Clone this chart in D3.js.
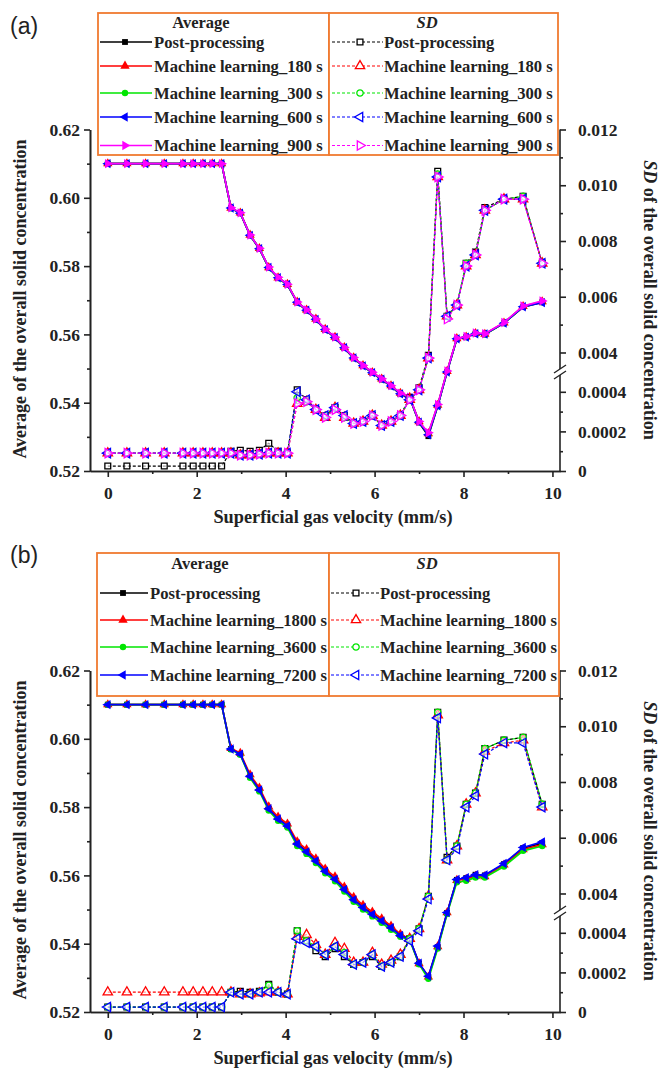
<!DOCTYPE html>
<html>
<head>
<meta charset="utf-8">
<script src="https://cdn.jsdelivr.net/npm/d3@7"></script>
<style>
  body { margin: 0; background: #fff; }
  text { font-family: "Liberation Serif", "Times New Roman", serif; font-weight: bold; fill: #222; }
</style>
</head>
<body>
<script>
var W = 659, H = 1072;

// superficial gas velocity (mm/s)
var velocity = [0, 0.43, 0.85, 1.27, 1.69, 1.92, 2.14, 2.35, 2.56, 2.77, 2.98, 3.2, 3.41, 3.62, 3.83, 4.04,
  4.26, 4.47, 4.68, 4.89, 5.11, 5.32, 5.53, 5.74, 5.95, 6.16, 6.37, 6.58, 6.79, 7.0, 7.21, 7.42, 7.63, 7.85,
  8.06, 8.27, 8.48, 8.91, 9.34, 9.77];

var xTicks = [0, 2, 4, 6, 8, 10];
var xMinor = [1, 3, 5, 7, 9];
var meanTicks = [0.52, 0.54, 0.56, 0.58, 0.60, 0.62];
var meanMinor = [0.53, 0.55, 0.57, 0.59, 0.61];
var sdTicks = [0, 0.0002, 0.0004, 0.004, 0.006, 0.008, 0.010, 0.012];
var sdTickLabels = ["0", "0.0002", "0.0004", "0.004", "0.006", "0.008", "0.010", "0.012"];
var sdMinor = [0.0001, 0.0003, 0.005, 0.007, 0.009, 0.011];

// post-processing (same in both panels)
var meanPost = [0.61, 0.61, 0.61, 0.61, 0.61, 0.61, 0.61, 0.61, 0.61, 0.597, 0.5955, 0.589, 0.585, 0.5795, 0.5765, 0.5745,
  0.5693, 0.567, 0.5643, 0.5613, 0.559, 0.556, 0.553, 0.5507, 0.5487, 0.5468, 0.5448, 0.5425, 0.5414, 0.5342, 0.5302,
  0.539, 0.549, 0.5587, 0.5592, 0.5602, 0.56, 0.5633, 0.568, 0.5694];
var sdPost = [0.000025, 0.000025, 0.000025, 0.000025, 0.000025, 0.000025, 0.000025, 0.000025, 0.000025,
  0.0001, 0.000105, 0.0001, 0.000105, 0.00014, 0.0001, 0.00009,
  0.00041, 0.00036, 0.00031, 0.00028, 0.00032, 0.00028, 0.00024, 0.00025, 0.00028, 0.00023, 0.00025, 0.00028,
  0.00037, 0.00042, 0.0039, 0.0105, 0.0053, 0.0057, 0.0072, 0.0076, 0.0092, 0.0095, 0.0096, 0.0072];

// panel (a)
var namesA = ["Post-processing", "Machine learning_180 s", "Machine learning_300 s", "Machine learning_600 s", "Machine learning_900 s"];
var mean180A = [0.61, 0.61, 0.61, 0.61, 0.61, 0.61, 0.61, 0.61, 0.61, 0.597, 0.5956, 0.5891, 0.5852, 0.5796, 0.5766, 0.5747,
  0.5695, 0.5672, 0.5645, 0.5615, 0.5592, 0.5562, 0.5532, 0.5509, 0.5489, 0.547, 0.545, 0.5428, 0.5416, 0.5345, 0.531,
  0.5393, 0.5492, 0.5588, 0.5593, 0.5603, 0.5601, 0.5634, 0.5682, 0.5696];
var mean300A = [0.61, 0.61, 0.61, 0.61, 0.61, 0.61, 0.61, 0.61, 0.61, 0.5969, 0.5955, 0.589, 0.5851, 0.5795, 0.5765, 0.5746,
  0.5694, 0.5671, 0.5644, 0.5614, 0.5591, 0.5561, 0.5531, 0.5508, 0.5488, 0.5469, 0.5449, 0.5427, 0.5415, 0.5344, 0.5308,
  0.5392, 0.5491, 0.5587, 0.5592, 0.5602, 0.56, 0.5633, 0.5681, 0.5695];
var mean600A = [0.61, 0.61, 0.61, 0.61, 0.61, 0.61, 0.61, 0.61, 0.61, 0.597, 0.5955, 0.589, 0.5851, 0.5796, 0.5766, 0.5746,
  0.5694, 0.5671, 0.5644, 0.5614, 0.5591, 0.5561, 0.5531, 0.5508, 0.5488, 0.5469, 0.5449, 0.5426, 0.5415, 0.5343, 0.5306,
  0.5391, 0.549, 0.5587, 0.5592, 0.5602, 0.5601, 0.5633, 0.5681, 0.5693];
var mean900A = [0.61, 0.61, 0.61, 0.61, 0.61, 0.61, 0.61, 0.61, 0.61, 0.5971, 0.5956, 0.5891, 0.5852, 0.5797, 0.5767, 0.5747,
  0.5695, 0.5672, 0.5645, 0.5615, 0.5592, 0.5562, 0.5532, 0.5509, 0.5489, 0.547, 0.545, 0.5428, 0.5416, 0.5345, 0.5312,
  0.5395, 0.5493, 0.5589, 0.5594, 0.5604, 0.5602, 0.5635, 0.5683, 0.5698];
var sd180A = [0.00009, 0.00009, 0.00009, 0.00009, 0.00009, 0.00009, 0.00009, 0.00009, 0.00009,
  0.00009, 0.00008, 0.00008, 0.000085, 0.00009, 0.00009, 0.00009,
  0.00034, 0.00035, 0.00031, 0.00027, 0.00032, 0.00027, 0.00024, 0.00025, 0.00028, 0.00023, 0.00025, 0.00028,
  0.00036, 0.00041, 0.0038, 0.0103, 0.0053, 0.0057, 0.0071, 0.0075, 0.0091, 0.0095, 0.0095, 0.0072];
var sd300A = [0.00009, 0.00009, 0.00009, 0.00009, 0.00009, 0.00009, 0.00009, 0.00009, 0.00009,
  0.00009, 0.00008, 0.00008, 0.000085, 0.00009, 0.00009, 0.00009,
  0.00037, 0.00035, 0.00031, 0.00028, 0.00032, 0.00027, 0.00024, 0.00025, 0.00028, 0.00023, 0.00025, 0.00028,
  0.00036, 0.00041, 0.0038, 0.0104, 0.0053, 0.0057, 0.0072, 0.0075, 0.0091, 0.0095, 0.0096, 0.0072];
var sd600A = [0.00009, 0.00009, 0.00009, 0.00009, 0.00009, 0.00009, 0.00009, 0.00009, 0.00009,
  0.00009, 0.00008, 0.00008, 0.000085, 0.00009, 0.00009, 0.00009,
  0.0004, 0.00036, 0.00031, 0.00028, 0.00032, 0.00028, 0.00024, 0.00025, 0.00028, 0.00023, 0.00025, 0.00028,
  0.00036, 0.00041, 0.0038, 0.0103, 0.0053, 0.0057, 0.0071, 0.0075, 0.0091, 0.0095, 0.0095, 0.0072];
var sd900A = [0.00009, 0.00009, 0.00009, 0.00009, 0.00009, 0.00009, 0.00009, 0.00009, 0.00009,
  0.00009, 0.00008, 0.00008, 0.000085, 0.00009, 0.00009, 0.00009,
  0.00034, 0.00035, 0.00031, 0.00027, 0.00031, 0.00027, 0.00024, 0.00025, 0.00028, 0.00023, 0.00025, 0.00028,
  0.00036, 0.00041, 0.0038, 0.0103, 0.0052, 0.0057, 0.0071, 0.0075, 0.0091, 0.0095, 0.0095, 0.0072];

// panel (b)
var namesB = ["Post-processing", "Machine learning_1800 s", "Machine learning_3600 s", "Machine learning_7200 s"];
var mean1800B = [0.61, 0.61, 0.61, 0.61, 0.61, 0.61, 0.61, 0.61, 0.61, 0.5972, 0.5958, 0.5895, 0.5856, 0.5801, 0.5771, 0.5751,
  0.5699, 0.5676, 0.5649, 0.5619, 0.5596, 0.5566, 0.5536, 0.5513, 0.5493, 0.5473, 0.5452, 0.5428, 0.5414, 0.5342, 0.5303,
  0.5392, 0.5491, 0.5586, 0.5589, 0.5598, 0.5597, 0.5631, 0.5676, 0.569];
var mean3600B = [0.61, 0.61, 0.61, 0.61, 0.61, 0.61, 0.61, 0.61, 0.61, 0.5969, 0.5953, 0.5886, 0.5846, 0.579, 0.576, 0.574,
  0.5686, 0.5663, 0.5636, 0.5606, 0.5583, 0.5553, 0.5523, 0.55, 0.548, 0.5461, 0.5441, 0.542, 0.541, 0.534, 0.5297,
  0.5386, 0.5487, 0.558, 0.5584, 0.5594, 0.5594, 0.5626, 0.5672, 0.5686];
var mean7200B = [0.61, 0.61, 0.61, 0.61, 0.61, 0.61, 0.61, 0.61, 0.61, 0.597, 0.5955, 0.589, 0.585, 0.5795, 0.5765, 0.5745,
  0.5692, 0.5669, 0.5642, 0.5612, 0.5589, 0.5559, 0.5529, 0.5506, 0.5486, 0.5467, 0.5447, 0.5424, 0.5414, 0.5343, 0.5305,
  0.5393, 0.5491, 0.5588, 0.5593, 0.5602, 0.5601, 0.5635, 0.5682, 0.5698];
var sd1800B = [0.0001, 0.0001, 0.0001, 0.0001, 0.0001, 0.0001, 0.0001, 0.0001, 0.0001,
  0.0001, 0.00009, 0.00009, 0.000095, 0.0001, 0.0001, 0.00009,
  0.00038, 0.00039, 0.00034, 0.00029, 0.00035, 0.00032, 0.00025, 0.00025, 0.0003, 0.00024, 0.00026, 0.00029,
  0.00037, 0.00042, 0.0039, 0.0104, 0.0052, 0.0057, 0.0072, 0.0076, 0.0091, 0.0094, 0.0095, 0.0071];
var sd3600B = [0.000025, 0.000025, 0.000025, 0.000025, 0.000025, 0.000025, 0.000025, 0.000025, 0.000025,
  0.0001, 0.00009, 0.00009, 0.0001, 0.000135, 0.0001, 0.00009,
  0.00041, 0.00036, 0.00033, 0.00029, 0.00033, 0.0003, 0.00024, 0.00025, 0.00029, 0.00023, 0.00025, 0.00028,
  0.00037, 0.00042, 0.0039, 0.0105, 0.0052, 0.0057, 0.0072, 0.0076, 0.0092, 0.0095, 0.0096, 0.0072];
var sd7200B = [0.000025, 0.000025, 0.000025, 0.000025, 0.000025, 0.000025, 0.000025, 0.000025, 0.000025,
  0.0001, 0.00009, 0.00009, 0.0001, 0.0001, 0.0001, 0.00009,
  0.00037, 0.00035, 0.00033, 0.00029, 0.00033, 0.00029, 0.00024, 0.00025, 0.00029, 0.00023, 0.00025, 0.00028,
  0.00036, 0.00041, 0.0038, 0.0103, 0.0052, 0.0056, 0.0071, 0.0075, 0.009, 0.0094, 0.0094, 0.0071];

var colors = ["#000000", "#ff0000", "#00e600", "#0000ff", "#ff00ff"];
var shapes = ["square", "up", "circle", "left", "right"];

var svg = d3.select("body").append("svg").attr("width", W).attr("height", H);

function symbolPath(shape) {
  var type = shape == "square" ? d3.symbolSquare : shape == "circle" ? d3.symbolCircle : d3.symbolTriangle;
  var size = shape == "square" ? 34 : shape == "circle" ? 32 : 38;
  return d3.symbol().type(type).size(size)();
}
function symbolRot(shape) {
  return shape == "left" ? -90 : shape == "right" ? 90 : 0;
}

function drawPanel(p) {
  var g = svg.append("g").attr("transform", "translate(0," + p.dy + ")");
  var top = 129.5, bottom = 471, left = 90, right = 560, brk = 372;

  var x = d3.scaleLinear().domain([-0.4, 10.17]).range([left, right]);
  var yMean = d3.scaleLinear().domain([0.52, 0.62]).range([bottom, top]);
  var ySd = d3.scaleLinear().domain([0, 0.0005, 0.0033, 0.012]).range([bottom, brk, brk, top]);

  // axes
  function styleAxis(sel) {
    sel.attr("font-size", 17.5).attr("font-family", null);
    sel.selectAll("line, path").attr("stroke", "#222").attr("stroke-width", 1.6);
  }
  g.append("g").attr("transform", "translate(" + left + ",0)")
    .call(d3.axisLeft(yMean).tickValues(meanTicks).tickFormat(d3.format(".2f")).tickSize(6).tickPadding(4).tickSizeOuter(0))
    .call(styleAxis);
  g.append("g").attr("transform", "translate(" + left + ",0)")
    .call(d3.axisLeft(yMean).tickValues(meanMinor).tickFormat("").tickSize(3).tickSizeOuter(0))
    .call(styleAxis);
  g.append("g").attr("transform", "translate(0," + bottom + ")")
    .call(d3.axisBottom(x).tickValues(xTicks).tickSize(6).tickPadding(10).tickSizeOuter(0))
    .call(styleAxis);
  g.append("g").attr("transform", "translate(0," + bottom + ")")
    .call(d3.axisBottom(x).tickValues(xMinor).tickFormat("").tickSize(3).tickSizeOuter(0))
    .call(styleAxis);
  g.append("g").attr("transform", "translate(" + right + ",0)")
    .call(d3.axisRight(ySd).tickValues(sdTicks).tickFormat(function (d, i) { return sdTickLabels[i]; }).tickSize(6).tickPadding(12))
    .call(styleAxis)
    .call(function (a) { a.select(".domain").remove(); });
  g.append("g").attr("transform", "translate(" + right + ",0)")
    .call(d3.axisRight(ySd).tickValues(sdMinor).tickFormat("").tickSize(3))
    .call(styleAxis)
    .call(function (a) { a.select(".domain").remove(); });

  // right axis with break
  g.append("line").attr("x1", right).attr("x2", right).attr("y1", top).attr("y2", brk - 3)
    .attr("stroke", "#222").attr("stroke-width", 1.6);
  g.append("line").attr("x1", right).attr("x2", right).attr("y1", brk + 3).attr("y2", bottom)
    .attr("stroke", "#222").attr("stroke-width", 1.6);
  [-3, 3].forEach(function (o) {
    g.append("line").attr("x1", right - 6).attr("y1", brk + o + 4).attr("x2", right + 6).attr("y2", brk + o - 4)
      .attr("stroke", "#222").attr("stroke-width", 1.3);
  });

  // series
  p.series.forEach(function (s, k) {
    var meanLine = d3.line().x(function (d, i) { return x(velocity[i]); }).y(function (d) { return yMean(d); });
    g.append("path").attr("d", meanLine(s.mean)).attr("fill", "none")
      .attr("stroke", colors[k]).attr("stroke-width", 1.7);
    g.selectAll(null).data(s.mean).enter().append("path")
      .attr("d", symbolPath(shapes[k]))
      .attr("transform", function (d, i) { return "translate(" + x(velocity[i]) + "," + yMean(d) + ") rotate(" + symbolRot(shapes[k]) + ")"; })
      .attr("fill", colors[k]);
  });
  p.series.forEach(function (s, k) {
    var sdLine = d3.line().x(function (d, i) { return x(velocity[i]); }).y(function (d) { return ySd(d); });
    g.append("path").attr("d", sdLine(s.sd)).attr("fill", "none")
      .attr("stroke", colors[k]).attr("stroke-width", 1.2).attr("stroke-dasharray", "3,2");
    g.selectAll(null).data(s.sd).enter().append("path")
      .attr("d", symbolPath(shapes[k]))
      .attr("transform", function (d, i) { return "translate(" + x(velocity[i]) + "," + ySd(d) + ") rotate(" + symbolRot(shapes[k]) + ")"; })
      .attr("fill", "#fff").attr("fill-opacity", 0.6).attr("stroke", colors[k]).attr("stroke-width", 1.3);
  });

  // axis titles
  g.append("text").attr("x", 333).attr("y", 523).attr("text-anchor", "middle").attr("font-size", 18.3)
    .text("Superficial gas velocity (mm/s)");
  g.append("text").attr("transform", "translate(26,299) rotate(-90)").attr("text-anchor", "middle").attr("font-size", 18)
    .text("Average of the overall solid concentration");
  var rt = g.append("text").attr("transform", "translate(644,300) rotate(90)").attr("text-anchor", "middle").attr("font-size", 18);
  rt.append("tspan").attr("font-style", "italic").text("SD");
  rt.append("tspan").text(" of the overall solid concentration");

  // panel label
  g.append("text").attr("x", 10).attr("y", p.labelY).attr("font-size", 23)
    .style("font-family", "'Liberation Sans', Arial, sans-serif").style("font-weight", "normal")
    .text(p.label);

  // legend
  var L = p.legend;
  [[L.x0, L.xm], [L.xm, L.x1]].forEach(function (b) {
    g.append("rect").attr("x", b[0]).attr("y", L.top).attr("width", b[1] - b[0]).attr("height", L.bottom - L.top)
      .attr("fill", "#fff").attr("stroke", "#f07a30").attr("stroke-width", 1.8);
  });
  g.append("text").attr("x", L.titleAvgX).attr("y", L.titleY).attr("dy", "0.35em").attr("text-anchor", "middle")
    .attr("font-size", 16.5).text("Average");
  g.append("text").attr("x", L.titleSdX).attr("y", L.titleY).attr("dy", "0.35em").attr("text-anchor", "middle")
    .attr("font-size", 16.5).attr("font-style", "italic").text("SD");
  p.names.forEach(function (name, k) {
    var yy = L.rows[k];
    g.append("line").attr("x1", L.avgLine[0]).attr("x2", L.avgLine[1]).attr("y1", yy).attr("y2", yy)
      .attr("stroke", colors[k]).attr("stroke-width", 1.7);
    g.append("path").attr("d", symbolPath(shapes[k]))
      .attr("transform", "translate(" + L.avgMark + "," + yy + ") rotate(" + symbolRot(shapes[k]) + ")")
      .attr("fill", colors[k]);
    g.append("text").attr("x", L.avgText).attr("y", yy).attr("dy", "0.35em").attr("font-size", 16.6).text(name);

    g.append("line").attr("x1", L.sdLine[0]).attr("x2", L.sdLine[1]).attr("y1", yy).attr("y2", yy)
      .attr("stroke", colors[k]).attr("stroke-width", 1.2).attr("stroke-dasharray", "3,2");
    g.append("path").attr("d", symbolPath(shapes[k]))
      .attr("transform", "translate(" + L.sdMark + "," + yy + ") rotate(" + symbolRot(shapes[k]) + ")")
      .attr("fill", "#fff").attr("stroke", colors[k]).attr("stroke-width", 1.3);
    g.append("text").attr("x", L.sdText).attr("y", yy).attr("dy", "0.35em").attr("font-size", 16.6).text(name);
  });
}

drawPanel({
  dy: 0, label: "(a)", labelY: 34, names: namesA,
  series: [
    { mean: meanPost, sd: sdPost },
    { mean: mean180A, sd: sd180A },
    { mean: mean300A, sd: sd300A },
    { mean: mean600A, sd: sd600A },
    { mean: mean900A, sd: sd900A }
  ],
  legend: { x0: 98, xm: 329, x1: 558, top: 13, bottom: 155, titleY: 22, titleAvgX: 201, titleSdX: 427,
    rows: [42, 66, 93, 117, 145.5],
    avgLine: [100, 152], avgMark: 125, avgText: 154, sdLine: [332, 383], sdMark: 360, sdText: 384 }
});

drawPanel({
  dy: 541, label: "(b)", labelY: 22, names: namesB,
  series: [
    { mean: meanPost, sd: sdPost },
    { mean: mean1800B, sd: sd1800B },
    { mean: mean3600B, sd: sd3600B },
    { mean: mean7200B, sd: sd7200B }
  ],
  legend: { x0: 97, xm: 329, x1: 559, top: 12, bottom: 155, titleY: 22, titleAvgX: 200, titleSdX: 427,
    rows: [52, 79, 106, 134],
    avgLine: [100, 148], avgMark: 123, avgText: 150, sdLine: [331, 380], sdMark: 356, sdText: 380 }
});
</script>
</body>
</html>
